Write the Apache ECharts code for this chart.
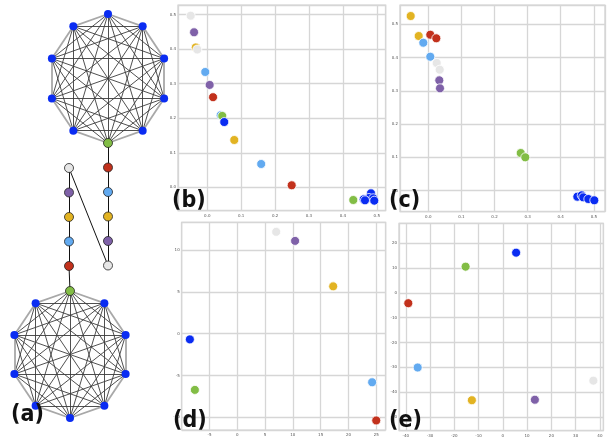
<!DOCTYPE html>
<html><head><meta charset="utf-8">
<script src="https://cdn.jsdelivr.net/npm/echarts@6/dist/echarts.min.js"></script>
<style>html,body{margin:0;padding:0;background:#fff}#c{width:616px;height:441px}</style>
</head><body><div id="c"></div>
<script>
// ---------- data ----------
const panelLabels = ['(a)', '(b)', '(c)', '(d)', '(e)'];
const cliqueSize = 10;
const chainRight = ['red', 'lblue', 'yellow', 'purple', 'white'];
const chainLeft = ['white', 'purple', 'yellow', 'lblue', 'red'];

const bPoints = [
  [-0.049, 0.497, 'white'], [-0.039, 0.449, 'purple'], [-0.034, 0.405, 'yellow'],
  [-0.0295, 0.399, 'white'], [-0.006, 0.334, 'lblue'], [0.007, 0.2965, 'purple'],
  [0.017, 0.261, 'red'], [0.0395, 0.2087, 'lblue'], [0.0442, 0.2067, 'green'],
  [0.050, 0.189, 'blue'], [0.0796, 0.137, 'yellow'], [0.159, 0.0675, 'lblue'],
  [0.249, 0.0058, 'red'], [0.4307, -0.0368, 'green'],
  [0.4829, -0.0174, 'blue'], [0.477, -0.031, 'blue'], [0.4897, -0.0319, 'blue'],
  [0.4926, -0.0388, 'blue'], [0.4614, -0.0348, 'blue'], [0.4652, -0.0377, 'blue']
];
const cPoints = [
  [-0.0532, 0.5246, 'yellow'], [-0.029, 0.4646, 'yellow'], [0.006, 0.4685, 'red'],
  [0.0242, 0.4577, 'red'], [-0.0151, 0.4444, 'lblue'], [0.006, 0.4024, 'lblue'],
  [0.0254, 0.3835, 'white'], [0.0344, 0.3634, 'white'], [0.0332, 0.3315, 'purple'],
  [0.0353, 0.3075, 'purple'], [0.2792, 0.1132, 'green'], [0.293, 0.1003, 'green'],
  [0.4502, -0.018, 'blue'], [0.4634, -0.0138, 'blue'], [0.468, -0.0198, 'blue'],
  [0.4834, -0.0249, 'blue'], [0.5015, -0.0288, 'blue']
];
const dPoints = [
  [7.0, 12.16, 'white'], [10.4, 11.08, 'purple'], [17.25, 5.65, 'yellow'],
  [-8.53, -0.68, 'blue'], [-7.63, -6.71, 'green'], [24.26, -5.8, 'lblue'],
  [25.0, -10.36, 'red']
];
const ePoints = [
  [5.47, 16.25, 'blue'], [-15.35, 10.6, 'green'], [-38.97, -4.15, 'red'],
  [-35.1, -30.1, 'lblue'], [37.3, -35.4, 'white'], [-12.76, -43.3, 'yellow'],
  [13.2, -43.1, 'purple']
];
// axis extents [xmin, xmax, ymin, ymax]
const bExtent = [-0.0864, 0.5263, -0.0678, 0.528];
const cExtent = [-0.0855, 0.5338, -0.063, 0.5577];
const dExtent = [-10, 26.7, -11.5, 13.3];
const eExtent = [-42.8, 41.4, -55.6, 28.1];

// ---------- styles ----------
const COLORS = {
  blue: '#0a2cf2', green: '#82bd45', red: '#c2311c', lblue: '#62aaf0',
  yellow: '#e2b322', purple: '#7f61a8', white: '#e6e6e6'
};

// ---------- graph layout (panel a) ----------
const nodes = [], links = [];
function addNode(x, y, cls, size, border) {
  nodes.push({
    value: [x, y], symbolSize: size,
    itemStyle: { color: COLORS[cls], borderColor: border ? '#222' : COLORS[cls], borderWidth: border ? 0.8 : 0 }
  });
  return nodes.length - 1;
}
function clique(cx, cy, rx, ry, startAngle) {
  const ids = [];
  for (let i = 0; i < cliqueSize; i++) {
    const a = (startAngle + 360 / cliqueSize * i) * Math.PI / 180;
    const isBridge = i === 0;
    ids.push(addNode(cx + rx * Math.cos(a), cy - ry * Math.sin(a), isBridge ? 'green' : 'blue', isBridge ? 9 : 8, isBridge));
  }
  for (let i = 0; i < cliqueSize; i++) for (let j = i + 1; j < cliqueSize; j++) {
    const per = (j - i === 1) || (j - i === cliqueSize - 1);
    links.push({ source: ids[i], target: ids[j],
      lineStyle: per ? { color: '#a8a8a8', width: 1.8, opacity: 1 } : { color: '#3c3c3c', width: 0.9, opacity: 1 } });
  }
  return ids;
}
const topClique = clique(108, 78.5, 59, 64.5, -90);
const botClique = clique(70, 354.5, 58.5, 63.5, 90);
const chainStep = 24.5;
let prevNode = topClique[0];
chainRight.forEach((cls, k) => {
  const id = addNode(108, 143 + chainStep * (k + 1), cls, 9, true);
  links.push({ source: prevNode, target: id, lineStyle: { color: '#111', width: 1, opacity: 1 } });
  prevNode = id;
});
chainLeft.forEach((cls, k) => {
  const id = addNode(69, 168 + chainStep * k, cls, 9, true);
  links.push({ source: prevNode, target: id, lineStyle: { color: '#111', width: 1, opacity: 1 } });
  prevNode = id;
});
links.push({ source: prevNode, target: botClique[0], lineStyle: { color: '#111', width: 1, opacity: 1 } });

// ---------- chart ----------
const grids = [
  { left: 0, top: 0, width: 616, height: 441 },
  { left: 178, top: 5, width: 207.7, height: 205.7 },
  { left: 400, top: 5, width: 205, height: 206.7 },
  { left: 181.7, top: 222.3, width: 204, height: 207.7 },
  { left: 399, top: 223.3, width: 204.3, height: 207.4 }
].map(g => Object.assign({ show: g.left > 0, borderColor: '#cfcfcf', borderWidth: 1.2, backgroundColor: '#fff', containLabel: false }, g));

const extents = [bExtent, cExtent, dExtent, eExtent];
const splits = [[5, 5], [5, 5], [7, 5], [8, 8]];
const decimals = [1, 1, 0, 0];
const labelStyle = (d) => ({ fontSize: 4, color: '#555', fontFamily: 'DejaVu Sans', formatter: v => v.toFixed(d) });

const xAxis = [{ gridIndex: 0, type: 'value', min: 0, max: 616, show: false }];
const yAxis = [{ gridIndex: 0, type: 'value', min: 0, max: 441, inverse: true, show: false }];
extents.forEach((e, i) => {
  xAxis.push({
    gridIndex: i + 1, type: 'value', min: e[0], max: e[1], splitNumber: splits[i][0],
    axisLine: { show: false }, axisTick: { show: false },
    axisLabel: Object.assign({ margin: 3, showMinLabel: false, showMaxLabel: false }, labelStyle(decimals[i])),
    splitLine: { show: true, lineStyle: { color: '#d6d6d6', width: 1.3 } }
  });
  yAxis.push({
    gridIndex: i + 1, type: 'value', min: e[2], max: e[3], splitNumber: splits[i][1],
    axisLine: { show: false }, axisTick: { show: false },
    axisLabel: Object.assign({ margin: 2, showMinLabel: false, showMaxLabel: false }, labelStyle(decimals[i])),
    splitLine: { show: true, lineStyle: { color: '#d6d6d6', width: 1.3 } }
  });
});

const series = [{
  type: 'graph', coordinateSystem: 'cartesian2d', xAxisIndex: 0, yAxisIndex: 0,
  data: nodes, links: links, symbol: 'circle', label: { show: false },
  lineStyle: { opacity: 1 },
  silent: true, animation: false, z: 3
}];
[bPoints, cPoints, dPoints, ePoints].forEach((pts, i) => {
  series.push({
    type: 'scatter', xAxisIndex: i + 1, yAxisIndex: i + 1,
    data: pts.map(p => ({ value: [p[0], p[1]], itemStyle: { color: COLORS[p[2]] } })),
    symbolSize: 9, itemStyle: { borderColor: '#fff', borderWidth: 0.8, opacity: 1 },
    animation: false, silent: true, z: 3
  });
});

const labelPos = [[11, 404], [172, 190], [389, 190], [173, 410], [389, 410]];
const graphic = panelLabels.map((t, i) => ({
  type: 'text', left: labelPos[i][0], top: labelPos[i][1], z: 100,
  style: { text: t, font: 'bold 23px "DejaVu Sans Condensed"', fill: '#111' }
}));

const chart = echarts.init(document.getElementById('c'), null, { renderer: 'canvas' });
chart.setOption({ animation: false, backgroundColor: '#fff', grid: grids, xAxis, yAxis, series, graphic });
</script></body></html>
